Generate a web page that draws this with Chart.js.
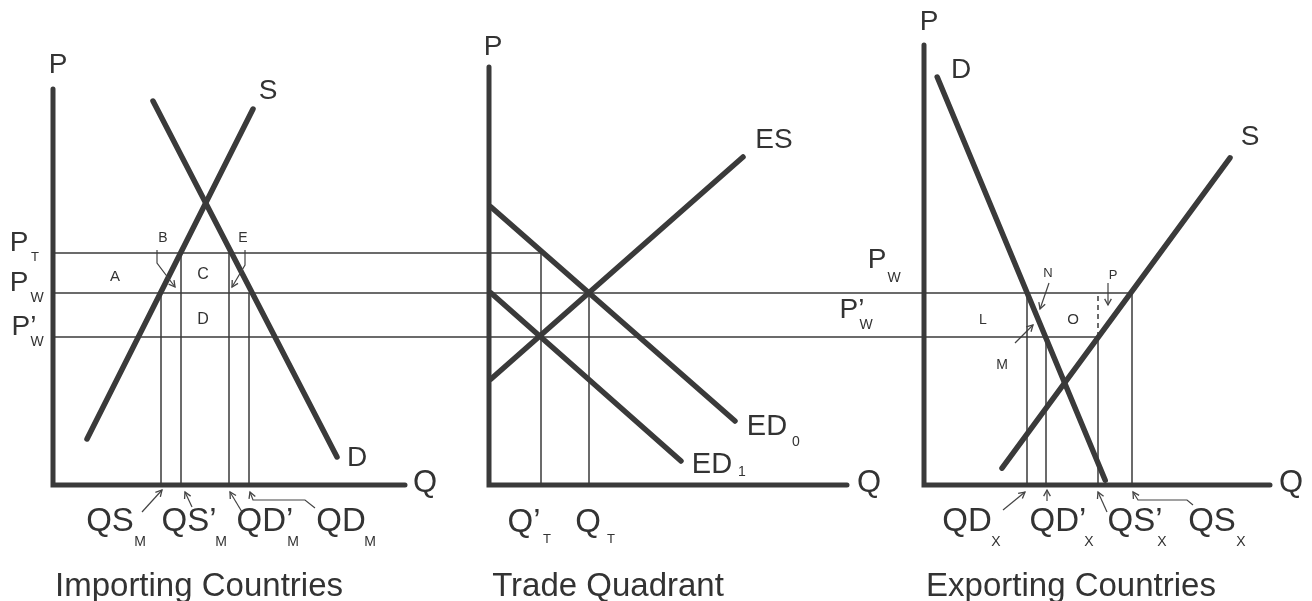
<!DOCTYPE html>
<html><head><meta charset="utf-8">
<script src="https://cdn.jsdelivr.net/npm/chart.js@4/dist/chart.umd.min.js"></script>
<style>html,body{margin:0;padding:0;background:#fff;overflow:hidden}#wrap{width:1312px;height:601px}</style>
</head><body><div id="wrap"><canvas id="c" width="1312" height="601"></canvas></div>
<script>
// ================= DATA =================
// shared price levels P_T, P_W, P'_W
const priceValues = [5.8, 4.8, 3.7];
// right end of each price line, in importing-quadrant Q units
const priceLineEnd = [12.2, 27.0, 26.1];

// axes of [importing, trade, exporting]: top of P axis, end of Q axis
const axisPTop = [9.9, 10.45, 11.0];
const axisQEnd = [8.8, 8.95, 8.65];

// Importing countries
const impSupplyQ = [0.85, 5.0];
const impSupplyP = [1.15, 9.4];
const impDemandQ = [2.5, 7.1];
const impDemandP = [9.6, 0.7];
const impQNames  = ['QS', 'QS\u2019', 'QD\u2019', 'QD'];
const impQValues = [2.7, 3.2, 4.4, 4.9];
const impQPrice  = [4.8, 5.8, 5.8, 4.8];

// Trade quadrant
const esQ  = [0.05, 6.35];
const esP  = [2.65, 8.2];
const ed0Q = [0.05, 6.15];
const ed0P = [6.95, 1.6];
const ed1Q = [0.05, 4.8];
const ed1P = [4.8, 0.6];
const tradeQNames  = ['Q\u2019', 'Q'];
const tradeQValues = [1.3, 2.5];
const tradeQPrice  = [5.8, 4.8];

// Exporting countries
const expDemandQ = [0.33, 4.53];
const expDemandP = [10.2, 0.12];
const expSupplyQ = [1.95, 7.65];
const expSupplyP = [0.42, 8.18];
const expQNames  = ['QD', 'QD\u2019', 'QS\u2019', 'QS'];
const expQValues = [2.575, 3.05, 4.35, 5.2];
const expQPrice  = [4.8, 3.7, 3.7, 4.8];
const expDashQ   = [4.35, 4.35];
const expDashP   = [3.7, 4.8];

// pointer arrows (Q, P pairs)
const arrowB    = [[2.6, 5.875], [2.6, 5.55], [3.05, 4.95]];
const arrowE    = [[4.8, 5.875], [4.8, 5.5], [4.475, 4.95]];
const arrowQSM  = [[2.225, -0.675], [2.725, -0.125]];
const arrowQS2M = [[3.475, -0.55], [3.3, -0.175]];
const arrowQD2M = [[4.725, -0.675], [4.425, -0.175]];
const arrowQDM  = [[6.55, -0.575], [6.3, -0.375], [5.0, -0.375], [4.925, -0.175]];
const arrowM    = [[2.275, 3.55], [2.725, 4.0]];
const arrowN    = [[3.125, 5.05], [2.9, 4.4]];
const arrowP    = [[4.6, 5.05], [4.6, 4.5]];
const arrowQDX  = [[1.975, -0.625], [2.525, -0.175]];
const arrowQD2X = [[3.075, -0.4], [3.075, -0.125]];
const arrowQS2X = [[4.575, -0.675], [4.35, -0.175]];
const arrowQSX  = [[6.725, -0.5], [6.575, -0.375], [5.35, -0.375], [5.225, -0.175]];

// ================= STYLE / LAYOUT =================
const INK = '#3a3a3a';
const TXT = '#333333';
const FONT = '"Liberation Sans", Arial, Helvetica, sans-serif';
const PX = 40; // pixels per unit
const origins = { x1: 53, x2: 489, x3: 924 };
const yOrigin = 485;
const W = 1312, H = 601;

function seg(xs, ys, ax, width, extra) {
  return Object.assign({
    data: xs.map((x, i) => ({ x: x, y: ys[i] })),
    xAxisID: ax, yAxisID: 'y', showLine: true,
    borderColor: INK, backgroundColor: INK, borderWidth: width,
    pointRadius: 0, pointHoverRadius: 0, fill: false, clip: false
  }, extra || {});
}
function pairs(arr, ax) {
  return seg(arr.map(p => p[0]), arr.map(p => p[1]), ax, 1.2, { arrow: true, borderColor: '#444' });
}

const datasets = [];
// price lines
priceValues.forEach((p, i) => datasets.push(seg([0, priceLineEnd[i]], [p, p], 'x1', 1.5)));
// vertical quantity lines
impQValues.forEach((q, i) => datasets.push(seg([q, q], [0, impQPrice[i]], 'x1', 1.5)));
tradeQValues.forEach((q, i) => datasets.push(seg([q, q], [0, tradeQPrice[i]], 'x2', 1.5)));
expQValues.forEach((q, i) => datasets.push(seg([q, q], [0, expQPrice[i]], 'x3', 1.5)));
datasets.push(seg(expDashQ, expDashP, 'x3', 1.5, { borderDash: [5, 4] }));
// arrows
[arrowB, arrowE, arrowQSM, arrowQS2M, arrowQD2M, arrowQDM].forEach(a => datasets.push(pairs(a, 'x1')));
[arrowM, arrowN, arrowP, arrowQDX, arrowQD2X, arrowQS2X, arrowQSX].forEach(a => datasets.push(pairs(a, 'x3')));
// curves
const thick = { borderCapStyle: 'round' };
datasets.push(seg(impSupplyQ, impSupplyP, 'x1', 5.5, thick));
datasets.push(seg(impDemandQ, impDemandP, 'x1', 5.5, thick));
datasets.push(seg(esQ, esP, 'x2', 5.5, thick));
datasets.push(seg(ed0Q, ed0P, 'x2', 5.5, thick));
datasets.push(seg(ed1Q, ed1P, 'x2', 5.5, thick));
datasets.push(seg(expDemandQ, expDemandP, 'x3', 5.5, thick));
datasets.push(seg(expSupplyQ, expSupplyP, 'x3', 5.5, thick));
// axes
['x1', 'x2', 'x3'].forEach((ax, i) =>
  datasets.push(seg([0, 0, axisQEnd[i]], [axisPTop[i], 0, 0], ax, 5, { borderCapStyle: 'round', borderJoinStyle: 'miter' })));

// text annotations: [text, axis, q, p, size]
const texts = [];
function T(t, ax, x, y, size) { texts.push({ t, ax, x, y, size }); }
// importing
T('P', 'x1', 0.125, 10.5, 28); T('S', 'x1', 5.375, 9.85, 28); T('D', 'x1', 7.6, 0.675, 28); T('Q', 'x1', 9.3, 0.05, 31);
T('A', 'x1', 1.55, 5.2, 15); T('B', 'x1', 2.75, 6.175, 14); T('C', 'x1', 3.75, 5.25, 16); T('D', 'x1', 3.75, 4.125, 16); T('E', 'x1', 4.75, 6.175, 14);
T('P', 'x1', -0.85, 6.05, 28); T('T', 'x1', -0.45, 5.7, 13);
T('P', 'x1', -0.85, 5.05, 28); T('W', 'x1', -0.4, 4.675, 14);
T('P\u2019', 'x1', -0.725, 3.95, 28); T('W', 'x1', -0.4, 3.575, 14);
const impLabX = [1.425, 3.4, 5.3, 7.2], impSubX = [2.175, 4.2, 6.0, 7.925];
impQNames.forEach((n, i) => { T(n, 'x1', impLabX[i], -0.925, 33); T('M', 'x1', impSubX[i], -1.425, 14); });
T('Importing Countries', 'x1', 3.65, -2.55, 33);
// trade
T('P', 'x2', 0.1, 10.95, 28); T('ES', 'x2', 7.125, 8.625, 28);
T('ED', 'x2', 6.95, 1.45, 29); T('0', 'x2', 7.675, 1.075, 14);
T('ED', 'x2', 5.575, 0.5, 29); T('1', 'x2', 6.325, 0.325, 14);
T('Q', 'x2', 9.5, 0.05, 31);
const trLabX = [0.875, 2.475], trSubX = [1.45, 3.05];
tradeQNames.forEach((n, i) => { T(n, 'x2', trLabX[i], -0.95, 33); T('T', 'x2', trSubX[i], -1.35, 13); });
T('Trade Quadrant', 'x2', 2.975, -2.55, 33);
T('P', 'x2', 9.7, 5.625, 28); T('W', 'x2', 10.125, 5.175, 14);
T('P\u2019', 'x2', 9.075, 4.375, 28); T('W', 'x2', 9.425, 4.0, 14);
// exporting
T('P', 'x3', 0.125, 11.575, 28); T('D', 'x3', 0.925, 10.375, 28); T('S', 'x3', 8.15, 8.7, 28); T('Q', 'x3', 9.175, 0.05, 31);
T('L', 'x3', 1.475, 4.125, 14); T('O', 'x3', 3.725, 4.125, 15); T('M', 'x3', 1.95, 3.0, 14);
T('N', 'x3', 3.1, 5.3, 13); T('P', 'x3', 4.725, 5.25, 13);
const expLabX = [1.075, 3.35, 5.275, 7.2], expSubX = [1.8, 4.125, 5.95, 7.925];
expQNames.forEach((n, i) => { T(n, 'x3', expLabX[i], -0.925, 33); T('X', 'x3', expSubX[i], -1.425, 14); });
T('Exporting Countries', 'x3', 3.675, -2.55, 33);

const annot = {
  id: 'annot',
  beforeDraw(chart) {
    const c = chart.ctx; c.save(); c.fillStyle = '#fff'; c.fillRect(0, 0, chart.width, chart.height); c.restore();
  },
  afterDatasetsDraw(chart) {
    const c = chart.ctx;
    c.save();
    chart.data.datasets.forEach((ds, i) => {
      if (!ds.arrow) return;
      const pts = chart.getDatasetMeta(i).data;
      const a = pts[pts.length - 2], b = pts[pts.length - 1];
      const ang = Math.atan2(b.y - a.y, b.x - a.x);
      const L = 7, s = 0.5;
      c.strokeStyle = '#444'; c.lineWidth = 1.3;
      c.beginPath();
      c.moveTo(b.x - L * Math.cos(ang - s), b.y - L * Math.sin(ang - s));
      c.lineTo(b.x, b.y);
      c.lineTo(b.x - L * Math.cos(ang + s), b.y - L * Math.sin(ang + s));
      c.stroke();
    });
    c.fillStyle = TXT; c.textAlign = 'center'; c.textBaseline = 'middle';
    texts.forEach(o => {
      c.font = o.size + 'px ' + FONT;
      c.fillText(o.t, chart.scales[o.ax].getPixelForValue(o.x), chart.scales.y.getPixelForValue(o.y));
    });
    c.restore();
  }
};

function xr(ax) { return { type: 'linear', display: false, min: -origins[ax] / PX, max: (W - origins[ax]) / PX }; }

new Chart(document.getElementById('c'), {
  type: 'scatter',
  data: { datasets: datasets },
  options: {
    responsive: false, animation: false, events: [],
    layout: { padding: 0 },
    plugins: { legend: { display: false }, tooltip: { enabled: false } },
    elements: { line: { tension: 0 }, point: { radius: 0 } },
    scales: {
      x: { type: 'linear', display: false },
      x1: xr('x1'), x2: xr('x2'), x3: xr('x3'),
      y: { type: 'linear', display: false, min: -(H - yOrigin) / PX, max: yOrigin / PX }
    }
  },
  plugins: [annot]
});
</script>
</body></html>
